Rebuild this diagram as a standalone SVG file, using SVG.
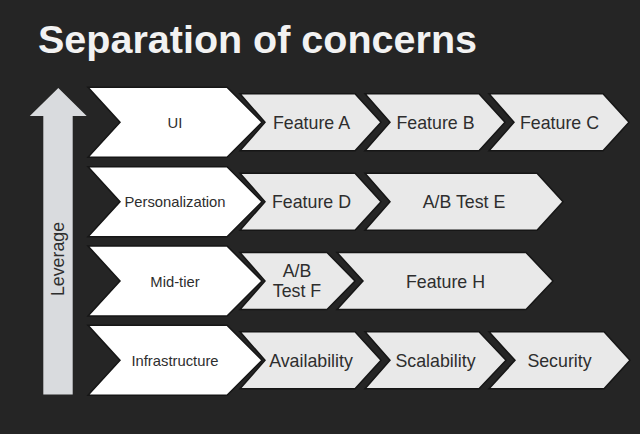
<svg xmlns="http://www.w3.org/2000/svg" width="640" height="434" viewBox="0 0 640 434">
<style>
.bg{fill:#252525}
.title{font-family:"Liberation Sans",Arial,sans-serif;font-weight:bold;font-size:39.5px;fill:#f2f2f2}
.layer{fill:#ffffff;stroke:#161616;stroke-width:1.5}
.item{fill:#e9e9e9;stroke:#161616;stroke-width:1.5}
.lt{font-family:"Liberation Sans",Arial,sans-serif;font-size:14.8px;fill:#2e2e2e;text-anchor:middle}
.it{font-family:"Liberation Sans",Arial,sans-serif;font-size:17.8px;fill:#2e2e2e;text-anchor:middle}
.arrow{fill:#d9dbde}
</style>
<rect class="bg" x="0" y="0" width="640" height="434"/>
<text class="title" x="38" y="53">Separation of concerns</text>

<g id="leverage">
<polygon class="arrow" points="58.3,88 86.7,116 72.7,116 72.7,394.5 43.3,394.5 43.3,116 29.8,116"/>
<text class="it" x="63.5" y="259" transform="rotate(-90 63.5 259)">Leverage</text>
</g>

<g id="row-ui">
<g id="ui"><polygon class="layer" points="88,87.3 227,87.3 262,122.3 227,157.3 88,157.3 120,122.3"/><text class="lt" x="175" y="127.8">UI</text></g>
<g id="feature-a"><polygon class="item" points="240,93.8 355,93.8 381,122.3 355,150.8 240,150.8 265,122.3"/><text class="it" x="311.5" y="128.8">Feature A</text></g>
<g id="feature-b"><polygon class="item" points="365,93.8 479,93.8 505,122.3 479,150.8 365,150.8 390,122.3"/><text class="it" x="435.5" y="128.8">Feature B</text></g>
<g id="feature-c"><polygon class="item" points="489,93.8 603,93.8 629,122.3 603,150.8 489,150.8 514,122.3"/><text class="it" x="559.5" y="128.8">Feature C</text></g>
</g>

<g id="row-personalization">
<g id="personalization"><polygon class="layer" points="88,166.7 227,166.7 262,201.7 227,236.7 88,236.7 120,201.7"/><text class="lt" x="175" y="207.2">Personalization</text></g>
<g id="feature-d"><polygon class="item" points="240,173.2 355,173.2 381,201.7 355,230.2 240,230.2 265,201.7"/><text class="it" x="311.5" y="208.2">Feature D</text></g>
<g id="ab-test-e"><polygon class="item" points="365,173.2 537,173.2 563,201.7 537,230.2 365,230.2 390,201.7"/><text class="it" x="464" y="208.2">A/B Test E</text></g>
</g>

<g id="row-midtier">
<g id="mid-tier"><polygon class="layer" points="88,246 227,246 262,281 227,316 88,316 120,281"/><text class="lt" x="175" y="286.5">Mid-tier</text></g>
<g id="ab-test-f"><polygon class="item" points="240,252.5 327,252.5 355,281 327,309.5 240,309.5 265,281"/><text class="it" x="297" y="277">A/B</text><text class="it" x="297" y="297">Test F</text></g>
<g id="feature-h"><polygon class="item" points="337,252.5 526,252.5 553,281 526,309.5 337,309.5 363,281"/><text class="it" x="445.5" y="287.5">Feature H</text></g>
</g>

<g id="row-infrastructure">
<g id="infrastructure"><polygon class="layer" points="88,325.3 227,325.3 262,360.3 227,395.3 88,395.3 120,360.3"/><text class="lt" x="175" y="365.8">Infrastructure</text></g>
<g id="availability"><polygon class="item" points="240,331.8 355,331.8 381,360.3 355,388.8 240,388.8 265,360.3"/><text class="it" x="311" y="366.8">Availability</text></g>
<g id="scalability"><polygon class="item" points="365,331.8 479,331.8 506,360.3 479,388.8 365,388.8 390,360.3"/><text class="it" x="435.5" y="366.8">Scalability</text></g>
<g id="security"><polygon class="item" points="489,331.8 604,331.8 630,360.3 604,388.8 489,388.8 515,360.3"/><text class="it" x="559.5" y="366.8">Security</text></g>
</g>

<g id="connectors"></g>
</svg>
